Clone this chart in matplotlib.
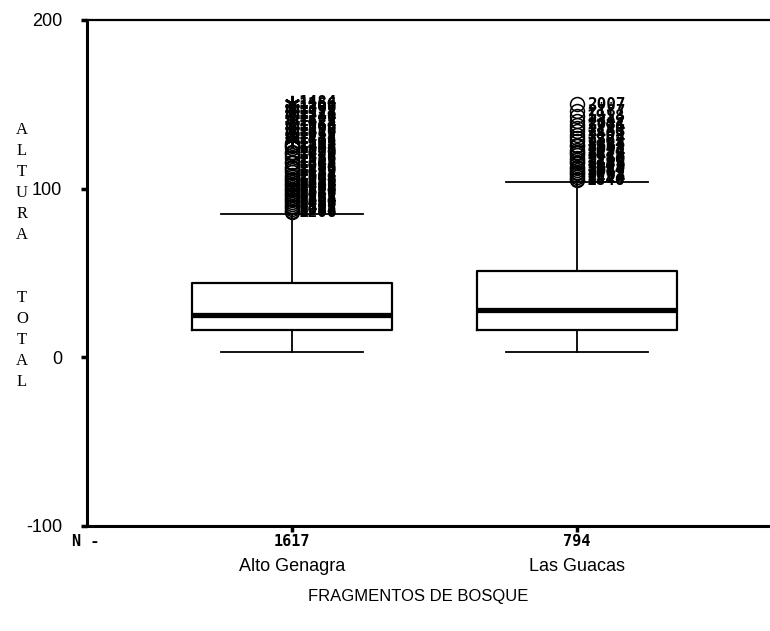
import numpy as np
import matplotlib.pyplot as plt

plt.rcParams["axes.unicode_minus"] = False

# Resumen de las cajas por fragmento (altura total)
fragmentos = ["Alto Genagra", "Las Guacas"]
n_casos = [1617, 794]
q1 = [16, 16]
mediana = [25, 28]
q3 = [44, 51]
bigote_inf = [3, 3]
bigote_sup = [85, 104]

# Valores atipicos (circulos) y extremos (asteriscos) con su numero de caso
ag_atipicos = [86, 87, 88, 89, 90, 91, 92, 93, 94, 95, 96, 97, 98, 99, 100,
               101, 102, 103, 104, 105, 106, 107, 108, 110, 111, 112, 113,
               115, 116, 118, 120, 121, 122, 124, 125, 126, 127]
ag_casos_atip = [1206, 1088, 1415, 1302, 1157, 1486, 1033, 1264, 1398, 1121,
                 1577, 1049, 1338, 1270, 1183, 1452, 1006, 1529, 1311, 1096,
                 1248, 1603, 1374, 1137, 1419, 1288, 1065, 1542, 1203, 1356,
                 1179, 1490, 1027, 1333, 1468, 1112, 1595]
ag_extremos = [129, 130, 132, 134, 135, 137, 138, 140, 142, 144, 145, 147,
               148, 150, 151]
ag_casos_ext = [1438, 1287, 1052, 1516, 1199, 1363, 1084, 1427, 1240, 1571,
                1118, 1392, 1306, 1166, 1484]
lg_atipicos = [105, 106, 107, 108, 109, 110, 111, 112, 113, 115, 116, 117,
               118, 120, 121, 122, 123, 125, 126, 128, 130, 132, 134, 136,
               138, 140, 143, 146, 150]
lg_casos_atip = [1846, 2114, 1953, 2208, 1771, 2047, 1684, 2319, 1902, 2136,
                 1729, 2260, 1988, 1815, 2172, 1654, 2091, 1937, 2385, 1702,
                 2224, 1869, 2153, 1796, 2031, 2342, 1918, 2187, 2007]

fig = plt.figure(figsize=(7.7, 6.31), dpi=100)
ax = fig.add_axes([87 / 770, 105 / 631, 1 - 87 / 770, 506 / 631])

stats = []
for i in range(2):
    stats.append(dict(med=mediana[i], q1=q1[i], q3=q3[i],
                      whislo=bigote_inf[i], whishi=bigote_sup[i], fliers=[]))

ax.bxp(stats, positions=[1, 2], widths=0.70, capwidths=0.495,
       showfliers=False,
       boxprops=dict(color="black", linewidth=1.6),
       whiskerprops=dict(color="black", linewidth=1.3),
       capprops=dict(color="black", linewidth=1.3),
       medianprops=dict(color="black", linewidth=3.8))

fuente_casos = dict(family="DejaVu Sans Mono", weight="bold", fontsize=11.5,
                    va="center", ha="left")

# Alto Genagra
ax.plot([1] * len(ag_atipicos), ag_atipicos, "o", mfc="none", mec="black",
        ms=10, mew=1.1, zorder=3)
ax.plot([1] * len(ag_extremos), ag_extremos, marker=(6, 2, 0), ls="none",
        color="black", ms=11, mew=1.4, zorder=3)
for v, c in zip(ag_atipicos + ag_extremos, ag_casos_atip + ag_casos_ext):
    ax.annotate(str(c), (1, v), xytext=(4.5, 0), textcoords="offset points",
                **fuente_casos)

# Las Guacas
ax.plot([2] * len(lg_atipicos), lg_atipicos, "o", mfc="none", mec="black",
        ms=10, mew=1.1, zorder=3)
for v, c in zip(lg_atipicos, lg_casos_atip):
    ax.annotate(str(c), (2, v), xytext=(7, 0), textcoords="offset points",
                **fuente_casos)

ax.set_xlim(0.281, 2.677)
ax.set_ylim(-100, 200)
ax.set_yticks([-100, 0, 100, 200])
ax.set_xticks([1, 2])
ax.set_xticklabels(["", ""])
ax.tick_params(axis="y", direction="out", length=4, width=2.5, pad=14,
               labelsize=13)
ax.tick_params(axis="x", direction="out", length=4, width=2.5)
for lab in ax.get_yticklabels():
    lab.set_family("Liberation Sans")

ax.spines["right"].set_visible(False)
ax.spines["left"].set_linewidth(2.2)
ax.spines["bottom"].set_linewidth(2.2)
ax.spines["top"].set_linewidth(1.6)

# Conteos N y nombres de los fragmentos bajo el eje
fig.text(86 / 770, 1 - 541 / 631, "N -", family="DejaVu Sans Mono",
         weight="bold", fontsize=11, ha="center", va="center")
for pos, n, nombre in zip([1, 2], n_casos, fragmentos):
    ax.annotate(str(n), (pos, 0), xycoords=("data", "axes fraction"),
                xytext=(0, -11.5), textcoords="offset points",
                family="DejaVu Sans Mono", weight="bold", fontsize=11,
                ha="center", va="center")
    ax.annotate(nombre, (pos, 0), xycoords=("data", "axes fraction"),
                xytext=(0, -29.5), textcoords="offset points",
                family="Liberation Sans", fontsize=13, ha="center",
                va="center")

fig.text(418 / 770, 1 - 596 / 631, "FRAGMENTOS DE BOSQUE",
         family="Liberation Sans", fontsize=12, ha="center", va="center")

# Etiqueta vertical del eje Y, letra por letra
etiqueta = "ALTURA  TOTAL"
for k, letra in enumerate(etiqueta):
    fig.text(22 / 770, 1 - (130 + 21 * k) / 631, letra,
             family="Liberation Serif", fontsize=12, ha="center",
             va="center")

fig.savefig("out.png", dpi=100)
